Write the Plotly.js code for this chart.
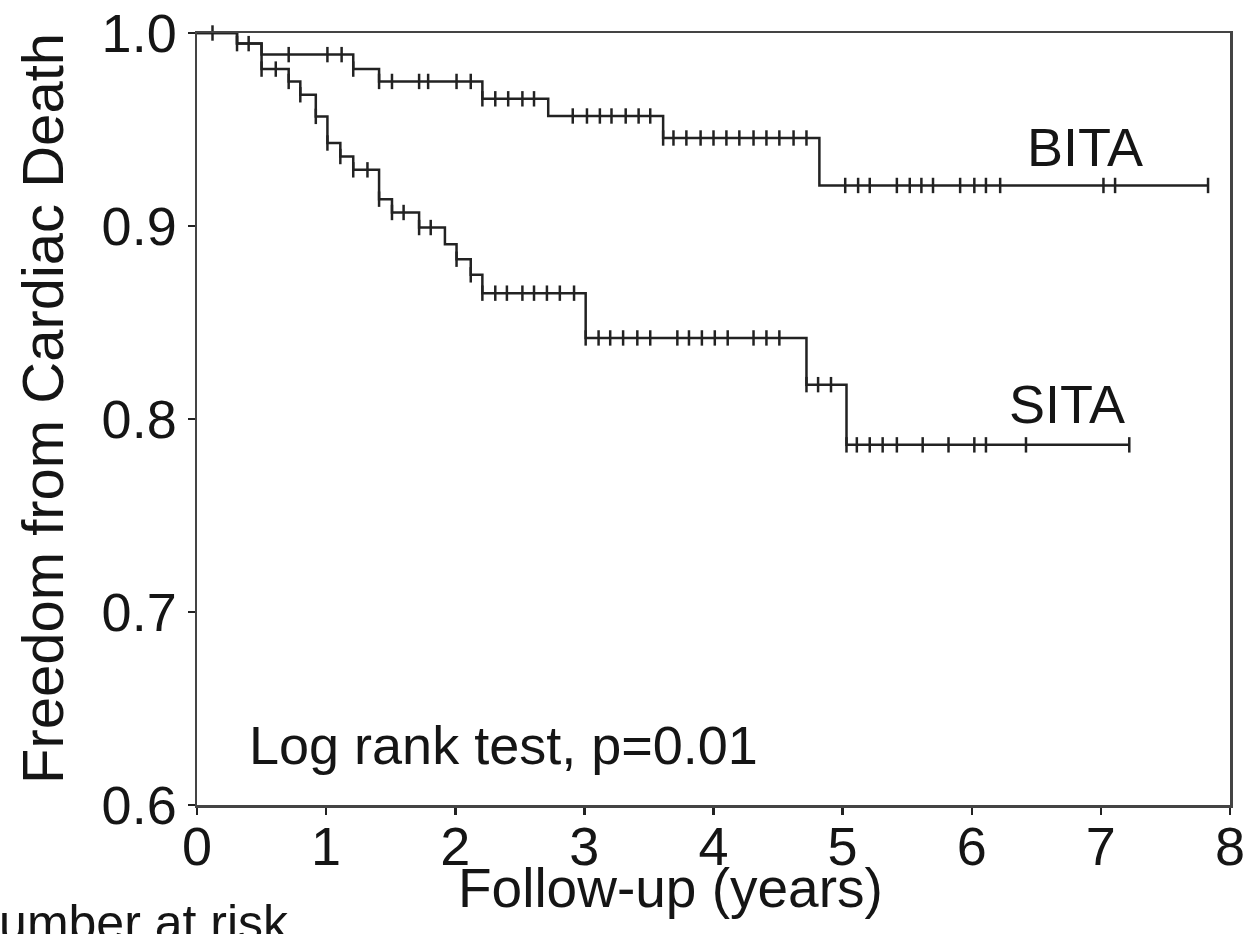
<!DOCTYPE html>
<html>
<head>
<meta charset="utf-8">
<script src="https://cdn.plot.ly/plotly-3.0.1.min.js"></script>
<style>html,body{margin:0;padding:0;background:#fff;}#chart{width:1249px;height:934px;}</style>
</head>
<body>
<div id="chart"></div>
<script>
// Kaplan-Meier step data (time in years, survival fraction)
const bitaEventT = [0.31, 0.50, 1.21, 1.41, 2.21, 2.72, 3.61, 4.82];
const bitaEventS = [0.9945, 0.9888, 0.9813, 0.9749, 0.9659, 0.9570, 0.9456, 0.9210];
const bitaEndT = 7.83;
const bitaCensorT = [0.12, 0.31, 0.40, 0.71, 1.01, 1.12, 1.21, 1.41, 1.51, 1.72, 1.79, 2.01, 2.12,
  2.21, 2.31, 2.41, 2.52, 2.61, 2.91, 3.02, 3.12, 3.21, 3.32, 3.42, 3.51, 3.61, 3.69, 3.79, 3.90,
  4.00, 4.10, 4.20, 4.31, 4.41, 4.51, 4.62, 4.72, 5.02, 5.12, 5.21, 5.42, 5.52, 5.61, 5.70, 5.91,
  6.02, 6.11, 6.22, 7.02, 7.11, 7.83];

const sitaEventT = [0.31, 0.50, 0.71, 0.80, 0.92, 1.01, 1.11, 1.21, 1.41, 1.51, 1.72, 1.92, 2.01,
  2.12, 2.21, 3.01, 4.72, 5.03];
const sitaEventS = [0.9945, 0.9813, 0.9749, 0.9680, 0.9568, 0.9430, 0.9360, 0.9291, 0.9139, 0.9070,
  0.8992, 0.8906, 0.8828, 0.8747, 0.8652, 0.8420, 0.8178, 0.7866];
const sitaEndT = 7.22;
const sitaCensorT = [0.50, 0.61, 0.71, 0.80, 0.92, 1.01, 1.11, 1.21, 1.32, 1.41, 1.51, 1.60, 1.72,
  1.81, 2.01, 2.12, 2.21, 2.31, 2.40, 2.52, 2.61, 2.71, 2.81, 2.92, 3.01, 3.11, 3.20, 3.30, 3.41,
  3.51, 3.72, 3.81, 3.91, 4.01, 4.11, 4.31, 4.41, 4.51, 4.72, 4.81, 4.91, 5.03, 5.11, 5.21, 5.31,
  5.42, 5.62, 5.82, 6.02, 6.11, 6.42, 7.22];

const groupNames = ["BITA", "SITA"];
const xTicks = [0, 1, 2, 3, 4, 5, 6, 7, 8];
const yTicks = [0.6, 0.7, 0.8, 0.9, 1.0];
const xTitle = "Follow-up (years)";
const yTitle = "Freedom from Cardiac Death";
const testText = "Log rank test, p=0.01";
const riskText = "Number at risk";

function stepXY(ev, es, endT) {
  return { x: [0].concat(ev, [endT]), y: [1].concat(es, [es[es.length - 1]]) };
}
function survAt(t, ev, es) {
  let s = 1;
  for (let i = 0; i < ev.length; i++) if (ev[i] <= t + 1e-9) s = es[i];
  return s;
}

const lineColor = "#222222";
const fontFam = "'Liberation Sans', Arial, sans-serif";
const textColor = "#151515";

const b = stepXY(bitaEventT, bitaEventS, bitaEndT);
const s = stepXY(sitaEventT, sitaEventS, sitaEndT);

const traces = [
  { x: s.x, y: s.y, mode: "lines", line: { shape: "hv", color: lineColor, width: 2.5 }, name: groupNames[1], hoverinfo: "skip" },
  { x: b.x, y: b.y, mode: "lines", line: { shape: "hv", color: lineColor, width: 2.5 }, name: groupNames[0], hoverinfo: "skip" },
  { x: sitaCensorT, y: sitaCensorT.map(t => survAt(t, sitaEventT, sitaEventS)), mode: "markers",
    marker: { symbol: "line-ns", size: 11, line: { color: lineColor, width: 2.5 } }, hoverinfo: "skip", cliponaxis: false },
  { x: bitaCensorT, y: bitaCensorT.map(t => survAt(t, bitaEventT, bitaEventS)), mode: "markers",
    marker: { symbol: "line-ns", size: 11, line: { color: lineColor, width: 2.5 } }, hoverinfo: "skip", cliponaxis: false }
];

const axisCommon = {
  showgrid: false, zeroline: false, showline: true, linecolor: "#444", linewidth: 2.5, mirror: true,
  ticks: "outside", ticklen: 7, tickwidth: 2.5, tickcolor: "#222",
  tickfont: { family: fontFam, size: 54, color: textColor }
};

const layout = {
  width: 1249, height: 934,
  margin: { l: 197, r: 19, t: 33, b: 129 },
  paper_bgcolor: "#fff", plot_bgcolor: "#fff",
  showlegend: false,
  xaxis: Object.assign({}, axisCommon, { range: [0, 8], tickvals: xTicks, ticktext: xTicks.map(String), ticklabelstandoff: -14 }),
  yaxis: Object.assign({}, axisCommon, { range: [0.6, 1.0], tickvals: yTicks, ticktext: yTicks.map(v => v.toFixed(1)) }),
  annotations: [
    { x: 6.88, y: 0.941, xref: "x", yref: "y", text: groupNames[0], showarrow: false,
      font: { family: fontFam, size: 54, color: textColor } },
    { x: 6.74, y: 0.808, xref: "x", yref: "y", text: groupNames[1], showarrow: false,
      font: { family: fontFam, size: 54, color: textColor } },
    { x: 0.39, y: 0.631, xref: "x", yref: "y", xanchor: "left", text: testText, showarrow: false,
      font: { family: fontFam, size: 54, color: textColor } },
    { x: 0.458, y: -0.107, xref: "paper", yref: "paper", xanchor: "center", yanchor: "middle", text: xTitle, showarrow: false,
      font: { family: fontFam, size: 55, color: textColor } },
    { x: -0.149, y: 0.513, xref: "paper", yref: "paper", xanchor: "center", yanchor: "middle", textangle: -90, text: yTitle, showarrow: false,
      font: { family: fontFam, size: 58, color: textColor } },
    { x: 0, y: 0, xref: "paper", yref: "paper", xanchor: "left", yanchor: "top", xshift: -236, yshift: -88, text: riskText, showarrow: false,
      font: { family: fontFam, size: 50, color: textColor } }
  ]
};

Plotly.newPlot("chart", traces, layout, { displayModeBar: false, staticPlot: true });
</script>
</body>
</html>
